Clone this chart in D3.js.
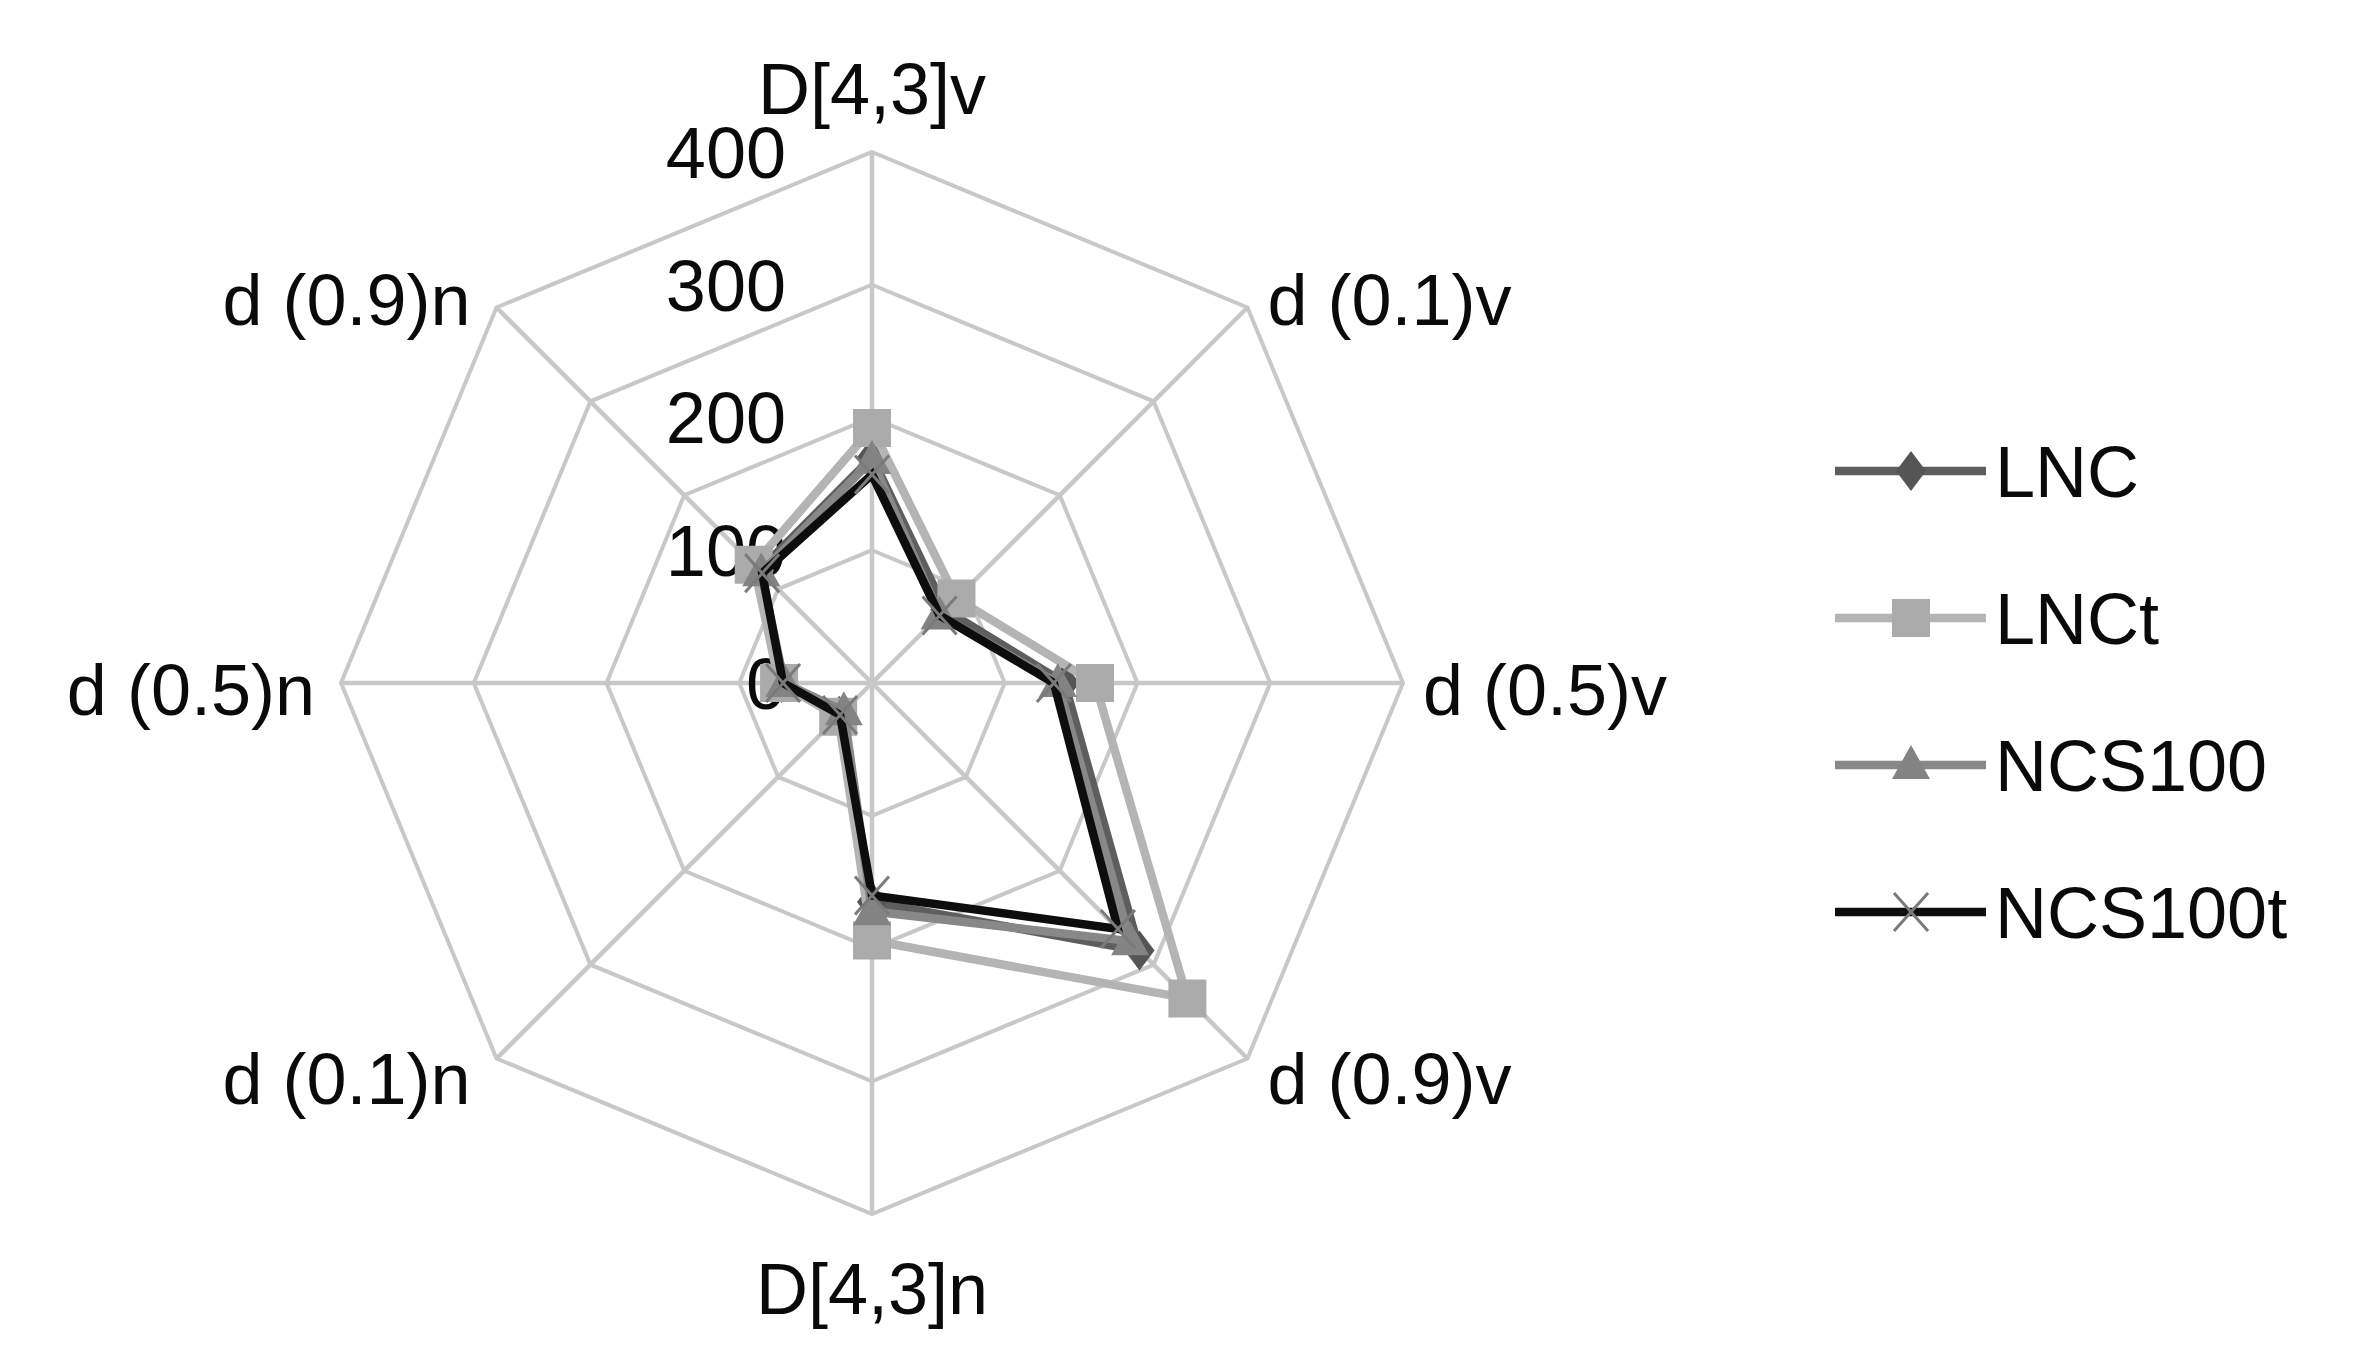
<!DOCTYPE html>
<html>
<head>
<meta charset="utf-8">
<script src="https://cdn.jsdelivr.net/npm/d3@7"></script>
<style>
  html, body { margin: 0; padding: 0; background: #fff; }
  svg { display: block; }
  text { font-family: "Liberation Sans", Arial, sans-serif; fill: #0a0a0a; }
</style>
</head>
<body>
<script>
// ---- data ----
const categories = ["D[4,3]v", "d (0.1)v", "d (0.5)v", "d (0.9)v", "D[4,3]n", "d (0.1)n", "d (0.5)n", "d (0.9)n"];
const tickValues = [0, 100, 200, 300, 400];
const seriesNames = ["LNC", "LNCt", "NCS100", "NCS100t"];
const lnc     = [170, 78, 145, 285, 165, 35, 68, 120];
const lncT    = [192, 90, 168, 336, 194, 36, 70, 126];
const ncs100  = [168, 72, 140, 275, 172, 30, 66, 118];
const ncs100T = [157, 72, 137, 262, 160, 34, 67, 117];

const W = 2354, H = 1358;
const cx = 872, cy = 683, R = 531;

const svg = d3.select("body").append("svg")
  .attr("width", W).attr("height", H);

svg.append("rect").attr("width", W).attr("height", H).attr("fill", "#fff");

const g = svg.append("g").attr("transform", "translate(" + cx + "," + cy + ")");

const r = d3.scaleLinear().domain([0, 400]).range([0, R]);
const angle = d3.scaleLinear().domain([0, categories.length]).range([0, 2 * Math.PI]);

// point on axis i at value v (angle 0 = up, clockwise)
const pt = (i, v) => [Math.sin(angle(i)) * r(v), -Math.cos(angle(i)) * r(v)];

const radial = d3.lineRadial()
  .angle((d, i) => angle(i))
  .radius((d) => r(d))
  .curve(d3.curveLinearClosed);

// ---- grid ----
tickValues.slice(1).forEach((t) => {
  g.append("path")
    .attr("d", radial(categories.map(() => t)))
    .attr("fill", "none")
    .attr("stroke", "#c8c8c8")
    .attr("stroke-width", 4);
});

categories.forEach((c, i) => {
  const p = pt(i, 400);
  g.append("line")
    .attr("x1", 0).attr("y1", 0)
    .attr("x2", p[0]).attr("y2", p[1])
    .attr("stroke", "#c8c8c8")
    .attr("stroke-width", 4.5);
});

// ---- tick labels ----
g.selectAll(".tick")
  .data(tickValues)
  .enter()
  .append("text")
  .attr("class", "tick")
  .attr("x", -86)
  .attr("y", (d) => -r(d))
  .attr("dy", "0.36em")
  .attr("text-anchor", "end")
  .attr("font-size", 72)
  .text((d) => d);

// ---- category labels ----
categories.forEach((c, i) => {
  const p = pt(i, 400);
  const s = Math.sin(angle(i)), co = Math.cos(angle(i));
  let x = p[0], y = p[1], anchor = "middle";
  if (Math.abs(s) < 0.01) {
    y += co > 0 ? -64 : 74;
  } else {
    anchor = s > 0 ? "start" : "end";
    x += s > 0 ? 20 : -26;
    if (Math.abs(co) > 0.01) y += co > 0 ? -8 : 20;
    else y += 6;
  }
  g.append("text")
    .attr("x", x).attr("y", y)
    .attr("dy", "0.36em")
    .attr("text-anchor", anchor)
    .attr("font-size", 72)
    .text(c);
});

// ---- series ----
const styles = [
  { values: lnc,     stroke: "#5e5e5e", marker: "diamond",  mfill: "#555555" },
  { values: lncT,    stroke: "#b4b4b4", marker: "square",   mfill: "#ababab" },
  { values: ncs100,  stroke: "#888888", marker: "triangle", mfill: "#838383" },
  { values: ncs100T, stroke: "#0d0d0d", marker: "x",        mfill: "#7a7a7a" },
];

const markerPath = (type) => {
  if (type === "diamond") return "M0,-20L15,0L0,20L-15,0Z";
  if (type === "square") return "M-19,-19H19V19H-19Z";
  if (type === "triangle") return "M0,-20L19,14H-19Z";
  return "M-17,-19L17,19M-17,19L17,-19";
};

const drawMarker = (sel, st, x, y) => {
  sel.append("path")
    .attr("d", markerPath(st.marker))
    .attr("transform", "translate(" + x + "," + y + ")")
    .attr("fill", st.marker === "x" ? "none" : st.mfill)
    .attr("stroke", st.marker === "x" ? st.mfill : "none")
    .attr("stroke-width", 3);
};

styles.forEach((st) => {
  const sg = g.append("g");
  sg.append("path")
    .attr("d", radial(st.values))
    .attr("fill", "none")
    .attr("stroke", st.stroke)
    .attr("stroke-width", 8.5)
    .attr("stroke-linejoin", "miter");
  st.values.forEach((v, i) => {
    const p = pt(i, v);
    drawMarker(sg, st, p[0], p[1]);
  });
});

// ---- legend ----
const legend = svg.append("g").attr("transform", "translate(1835,471)");
seriesNames.forEach((name, i) => {
  const st = styles[i];
  const lg = legend.append("g").attr("transform", "translate(0," + i * 147 + ")");
  lg.append("line")
    .attr("x1", 0).attr("x2", 151)
    .attr("y1", 0).attr("y2", 0)
    .attr("stroke", st.stroke)
    .attr("stroke-width", 8.5);
  drawMarker(lg, st, 76, 0);
  lg.append("text")
    .attr("x", 160).attr("y", 0)
    .attr("dy", "0.36em")
    .attr("font-size", 72)
    .text(name);
});
</script>
</body>
</html>
